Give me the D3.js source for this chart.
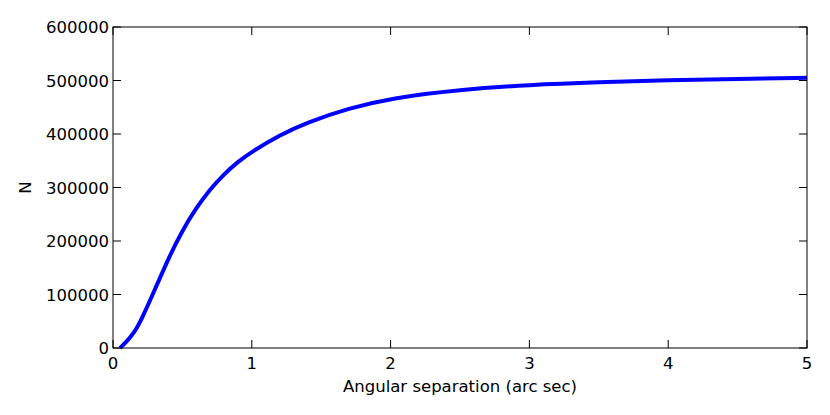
<!DOCTYPE html>
<html><head><meta charset="utf-8">
<script src="https://cdn.jsdelivr.net/npm/d3@7"></script>
<style>body{margin:0;background:#fff}text{font-family:"DejaVu Sans",sans-serif;font-size:16.5px}</style>
</head><body><svg id="c" width="830" height="415"></svg>
<script>
// values
const sep = [0.05, 0.1, 0.15, 0.2, 0.3, 0.4, 0.5, 0.6, 0.7, 0.8, 0.9, 1.0, 1.2, 1.4, 1.7, 2.0, 2.5, 3.0, 3.5, 4.0, 4.5, 5.0];
const count = [0, 12000, 28000, 50000, 108000, 168000, 220000, 262000, 297000, 325000, 348000, 367000, 398000, 422000, 448000, 467000, 483000, 492000, 497000, 500500, 503000, 505000];
const xTicks = [0, 1, 2, 3, 4, 5];
const yTicks = [0, 100000, 200000, 300000, 400000, 500000, 600000];

const m = { l: 113, r: 807, t: 27, b: 348 };
const svg = d3.select('#c');
const x = d3.scaleLinear().domain([0, 5]).range([m.l, m.r]);
const y = d3.scaleLinear().domain([0, 600000]).range([m.b, m.t]);

const g = svg.append('g');
// ticks inside, on all four sides
xTicks.forEach(t => {
  g.append('line').attr('x1', x(t)).attr('x2', x(t)).attr('y1', m.b).attr('y2', m.b - 8).attr('stroke', '#000');
  g.append('line').attr('x1', x(t)).attr('x2', x(t)).attr('y1', m.t).attr('y2', m.t + 8).attr('stroke', '#000');
  g.append('text').attr('x', x(t)).attr('y', m.b + 21).attr('text-anchor', 'middle').text(t);
});
yTicks.forEach(t => {
  g.append('line').attr('x1', m.l).attr('x2', m.l + 8).attr('y1', y(t)).attr('y2', y(t)).attr('stroke', '#000');
  g.append('line').attr('x1', m.r).attr('x2', m.r - 8).attr('y1', y(t)).attr('y2', y(t)).attr('stroke', '#000');
  g.append('text').attr('x', m.l - 4).attr('y', y(t) + 6).attr('text-anchor', 'end').text(t);
});

const line = d3.line().x((d, i) => x(sep[i])).y(d => y(d)).curve(d3.curveBasis);
svg.append('path').attr('d', line(count)).attr('fill', 'none').attr('stroke', '#0000ff').attr('stroke-width', 4);

svg.append('rect').attr('x', m.l).attr('y', m.t).attr('width', m.r - m.l).attr('height', m.b - m.t)
  .attr('fill', 'none').attr('stroke', '#000');

svg.append('text').attr('x', (m.l + m.r) / 2).attr('y', 392).attr('text-anchor', 'middle').text('Angular separation (arc sec)');
svg.append('text').attr('transform', `translate(31,${(m.t + m.b) / 2}) rotate(-90)`).attr('text-anchor', 'middle').text('N');
</script></body></html>
